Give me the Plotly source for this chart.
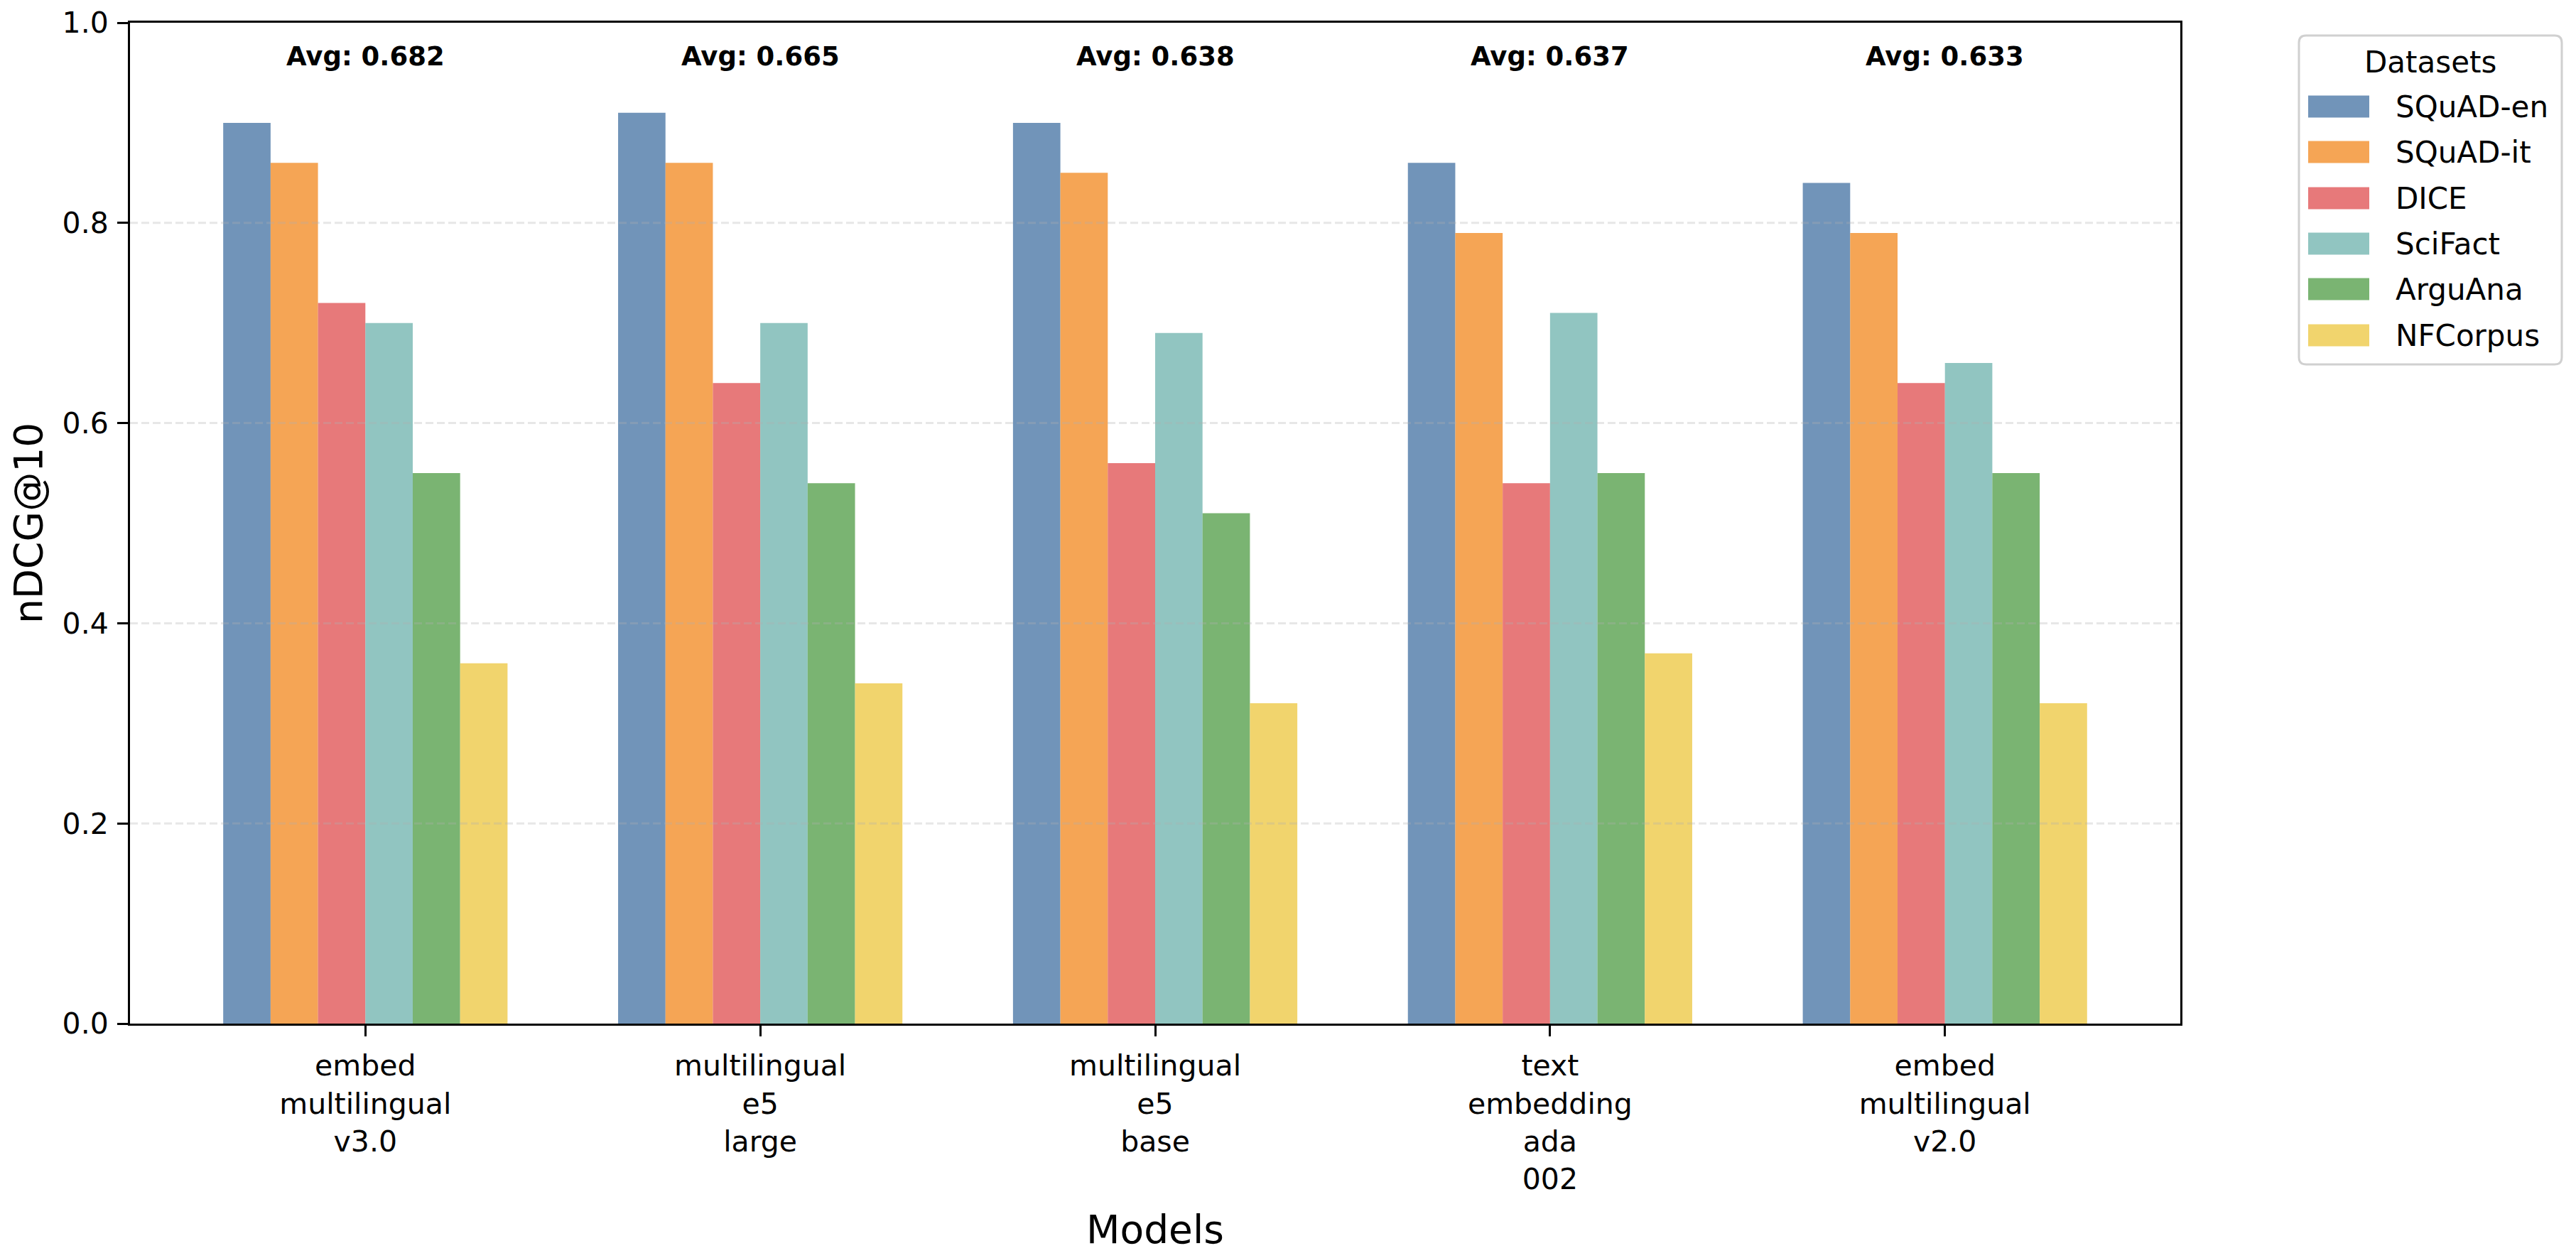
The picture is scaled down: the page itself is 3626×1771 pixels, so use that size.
import numpy as np
import plotly.graph_objects as go

# ---------------- data ----------------
models = [
    "embed<br>multilingual<br>v3.0",
    "multilingual<br>e5<br>large",
    "multilingual<br>e5<br>base",
    "text<br>embedding<br>ada<br>002",
    "embed<br>multilingual<br>v2.0",
]
datasets = ["SQuAD-en", "SQuAD-it", "DICE", "SciFact", "ArguAna", "NFCorpus"]
squad_en = [0.90, 0.91, 0.90, 0.86, 0.84]
squad_it = [0.86, 0.86, 0.85, 0.79, 0.79]
dice = [0.72, 0.64, 0.56, 0.54, 0.64]
scifact = [0.70, 0.70, 0.69, 0.71, 0.66]
arguana = [0.55, 0.54, 0.51, 0.55, 0.55]
nfcorpus = [0.36, 0.34, 0.32, 0.37, 0.32]
y_ticks = [0.0, 0.2, 0.4, 0.6, 0.8, 1.0]

series = [squad_en, squad_it, dice, scifact, arguana, nfcorpus]
colors = ["#4e79a7", "#f28e2b", "#e15759", "#76b7b2", "#59a14f", "#edc948"]

# ---------------- geometry ----------------
OFF = 8                      # default body margin of the page
W, H = 3626 - 2 * OFF, 1771 - 2 * OFF
PLOT_L, PLOT_R, PLOT_T, PLOT_B = 183, 3069, 32, 1441   # absolute page pixels
ML, MT = PLOT_L - OFF, PLOT_T - OFF
MR, MB = W - (PLOT_R - OFF), H - (PLOT_B - OFF)
PW, PH = W - ML - MR, H - MT - MB
FONT = "DejaVu Sans"


def px_x(px):
    return (px - PLOT_L) / PW


def px_y(py):
    return (PLOT_B - py) / PH


fig = go.Figure()
for name, vals, col in zip(datasets, series, colors):
    fig.add_trace(go.Bar(
        x=models, y=vals, name=name, marker=dict(color=col, line=dict(width=0)),
        opacity=0.8, showlegend=False,
    ))

# dashed grid drawn above bars (matplotlib style)
shapes = []
for t in y_ticks[1:-1]:
    shapes.append(dict(type="line", xref="paper", yref="y", x0=0, x1=1, y0=t, y1=t,
                       line=dict(color="rgba(176,176,176,0.3)", width=3, dash="11px,5px"),
                       layer="above"))

# average annotations
annotations = []
means = np.mean(np.array(series), axis=0)
for m, avg in zip(models, means):
    annotations.append(dict(x=m, y=0.966, xref="x", yref="y", text=f"<b>Avg: {avg:.3f}</b>",
                            showarrow=False, xanchor="center", yanchor="middle",
                            font=dict(family=FONT, size=37, color="black")))

# manual legend
lx0, lx1, ly0, ly1 = 3236, 3606, 50, 513
r = 10
x0, x1 = px_x(lx0), px_x(lx1)
y0, y1 = px_y(ly1), px_y(ly0)
rx, ry = r / PW, r / PH
path = (f"M{x0+rx},{y0} L{x1-rx},{y0} Q{x1},{y0} {x1},{y0+ry} L{x1},{y1-ry} Q{x1},{y1} {x1-rx},{y1} "
        f"L{x0+rx},{y1} Q{x0},{y1} {x0},{y1-ry} L{x0},{y0+ry} Q{x0},{y0} {x0+rx},{y0} Z")
shapes.append(dict(type="path", xref="paper", yref="paper", path=path,
                   line=dict(color="#d0d0d0", width=3), fillcolor="white", layer="above"))
annotations.append(dict(x=px_x(3421), y=px_y(88), xref="paper", yref="paper", text="Datasets",
                        showarrow=False, xanchor="center", yanchor="middle",
                        font=dict(family=FONT, size=42, color="black")))
item_y = [150, 214, 279, 343, 407, 472]
for name, col, cy in zip(datasets, colors, item_y):
    shapes.append(dict(type="rect", xref="paper", yref="paper",
                       x0=px_x(3249), x1=px_x(3335), y0=px_y(cy + 15.5), y1=px_y(cy - 15.5),
                       fillcolor=col, opacity=0.8, line=dict(width=0), layer="above"))
    annotations.append(dict(x=px_x(3370), y=px_y(cy), xref="paper", yref="paper", text=name,
                            showarrow=False, xanchor="left", yanchor="middle",
                            font=dict(family=FONT, size=42, color="black")))

fig.update_layout(
    width=W, height=H,
    margin=dict(l=ML, r=MR, t=MT, b=MB, pad=0, autoexpand=False),
    paper_bgcolor="white", plot_bgcolor="white",
    barmode="group", bargap=0.28, bargroupgap=0,
    font=dict(family=FONT, color="black"),
    shapes=shapes, annotations=annotations,
    showlegend=False,
)
fig.update_xaxes(
    range=[-0.596, 4.596], automargin=False,
    showline=True, linecolor="black", linewidth=3, mirror=True,
    ticks="outside", ticklen=15, tickwidth=3, tickcolor="black",
    tickfont=dict(family=FONT, size=41, color="black"),
    ticklabelstandoff=6,
    showgrid=False, zeroline=False,
    title=dict(text="Models", font=dict(family=FONT, size=55, color="black"), standoff=32),
)
fig.update_yaxes(
    range=[0, 1.0], tickvals=y_ticks, tickformat=".1f", automargin=False,
    showline=True, linecolor="black", linewidth=3, mirror=True,
    ticks="outside", ticklen=15, tickwidth=3, tickcolor="black",
    tickfont=dict(family=FONT, size=41, color="black"),
    ticklabelstandoff=4,
    showgrid=False, zeroline=False,
    title=dict(text="nDCG@10", font=dict(family=FONT, size=55, color="black"), standoff=22),
)

fig.write_html("out.html")
